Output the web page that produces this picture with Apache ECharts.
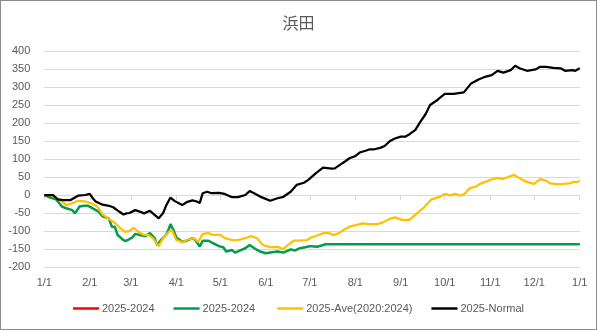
<!DOCTYPE html>
<html>
<head>
<meta charset="utf-8">
<script src="https://cdn.jsdelivr.net/npm/echarts@6/dist/echarts.min.js"></script>
<style>
html,body{margin:0;padding:0;background:#fff;}
#wrap{position:relative;width:597px;height:330px;}
#chart{position:absolute;left:0;top:0;width:597px;height:330px;}
#frame{position:absolute;left:0;top:0;width:597px;height:330px;box-sizing:border-box;border:1px solid #8c8c8c;pointer-events:none;}
</style>
</head>
<body>
<div id="wrap"><div id="chart"></div><div id="frame"></div></div>
<script>
// Month tick positions (day of year) and labels
const monthStartDays = [0,31,59,90,120,151,181,212,243,273,304,334,365];
const monthLabels = ['1/1','2/1','3/1','4/1','5/1','6/1','7/1','8/1','9/1','10/1','11/1','12/1','1/1'];

// 2025-2024 (red and green share the same values)
const diffDays = [0,4,8,12,15,19,21,24,27,30,33,37,40,44,46,48,50,53,55,57,60,62,65,69,72,75,77,80,83,85,86,88,90,94,97,101,103,106,108,112,115,119,122,124,128,130,134,137,140,144,147,151,154,159,163,168,171,174,178,181,186,190,191,192,365];
const diffValues = [0,-7,-12,-32,-37,-42,-51,-32,-30,-30,-37,-46,-60,-65,-88,-88,-111,-122,-128,-125,-118,-108,-111,-114,-106,-119,-139,-123,-111,-93,-81,-97,-118,-130,-127,-120,-125,-143,-127,-127,-134,-142,-145,-157,-153,-160,-153,-148,-139,-150,-157,-162,-160,-157,-160,-151,-154,-148,-145,-142,-144,-139,-143,-137,-137];

// 2025-Ave(2020:2024)
const aveDays = [0,4,7,12,15,19,23,28,32,36,40,45,48,52,55,58,61,64,68,71,74,78,81,85,87,90,94,97,102,105,108,112,115,120,123,128,132,137,141,145,149,154,159,163,166,170,174,179,182,187,191,194,197,201,204,208,213,217,221,227,231,235,239,244,249,254,259,264,269,273,277,280,284,287,290,294,297,301,304,309,312,315,320,323,327,330,334,338,342,345,349,354,358,361,363,365];
const aveValues = [0,0,-5,-18,-28,-23,-16,-18,-23,-32,-55,-69,-77,-93,-102,-100,-91,-102,-111,-111,-120,-142,-120,-102,-97,-125,-131,-125,-120,-130,-108,-106,-111,-111,-120,-125,-125,-120,-114,-120,-139,-145,-144,-150,-139,-127,-127,-125,-118,-111,-105,-106,-111,-106,-97,-88,-83,-79,-81,-81,-76,-67,-62,-69,-69,-51,-34,-12,-6,3,-1,3,-2,5,19,23,31,37,42,48,44,48,56,49,40,35,31,44,40,32,30,31,32,37,35,40];

// 2025-Normal
const normalDays = [0,6,9,13,18,20,23,28,31,33,35,39,44,47,51,54,56,58,62,65,68,72,74,78,81,83,86,89,94,97,101,104,106,108,111,114,119,123,128,132,137,140,144,148,154,159,163,168,172,177,180,185,190,196,198,202,205,208,212,215,219,222,225,229,232,236,239,243,246,249,253,256,260,263,268,273,279,286,291,296,301,305,309,313,318,321,324,329,335,338,342,347,352,355,360,362,365];
const normalValues = [0,0,-12,-14,-14,-9,-2,0,3,-9,-18,-26,-30,-34,-46,-54,-51,-50,-42,-46,-51,-44,-51,-65,-50,-30,-7,-17,-28,-20,-15,-18,-22,5,9,5,6,3,-6,-6,0,11,3,-6,-16,-9,-5,9,28,34,42,60,76,73,74,85,93,102,108,118,123,127,127,131,136,151,157,162,162,169,181,201,225,250,264,281,281,285,310,321,329,333,345,340,347,359,352,345,349,356,356,353,352,345,347,345,352];

function pairs(xs, ys){ return xs.map((d,i)=>[d, ys[i]]); }

const chart = echarts.init(document.getElementById('chart'), null, {renderer:'canvas'});
const txt = '#595959';
const font = '"Liberation Sans", Arial, sans-serif';

chart.setOption({
  animation:false,
  backgroundColor:'#ffffff',
  title:{
    text:'浜田', left:'center', top:10,
    textStyle:{fontFamily:'"Noto Sans CJK JP", sans-serif', fontSize:16, fontWeight:'normal', color:txt}
  },
  grid:{left:44.3, right:17.3, top:51, bottom:63, containLabel:false},
  xAxis:{
    type:'value', min:0, max:365,
    axisLine:{show:true, lineStyle:{color:'#d9d9d9', width:1}},
    axisTick:{show:true, customValues:monthStartDays, length:5, lineStyle:{color:'#d9d9d9'}},
    axisLabel:{
      customValues:monthStartDays, color:txt, fontSize:11, fontFamily:font, margin:10,
      formatter:function(v){ const i = monthStartDays.indexOf(Math.round(v)); return i>=0 ? (v===365 ? monthLabels[12] : monthLabels[i]) : ''; }
    },
    splitLine:{show:false}
  },
  yAxis:{
    type:'value', min:-200, max:400, interval:50,
    axisLine:{show:false}, axisTick:{show:false},
    axisLabel:{color:txt, fontSize:11, fontFamily:font, margin:14},
    splitLine:{lineStyle:{color:'#d9d9d9', width:1}}
  },
  legend:{
    bottom:11, left:'center', icon:'rect', itemWidth:26, itemHeight:2.5, itemGap:19,
    textStyle:{color:txt, fontSize:11, fontFamily:font, padding:[0,0,0,-2]},
    data:['2025-2024','2025-2024 ','2025-Ave(2020:2024)','2025-Normal']
  },
  series:[
    {name:'2025-2024', type:'line', data:pairs(diffDays, diffValues), symbol:'none', lineStyle:{color:'#ff0000', width:1.5}, itemStyle:{color:'#ff0000'}},
    {name:'2025-2024 ', type:'line', data:pairs(diffDays, diffValues), symbol:'none', lineStyle:{color:'#00a04b', width:2.5}, itemStyle:{color:'#00a04b'}},
    {name:'2025-Ave(2020:2024)', type:'line', data:pairs(aveDays, aveValues), symbol:'none', lineStyle:{color:'#ffc000', width:2.25}, itemStyle:{color:'#ffc000'}},
    {name:'2025-Normal', type:'line', data:pairs(normalDays, normalValues), symbol:'none', lineStyle:{color:'#000000', width:2.25}, itemStyle:{color:'#000000'}}
  ]
});
</script>
</body>
</html>
